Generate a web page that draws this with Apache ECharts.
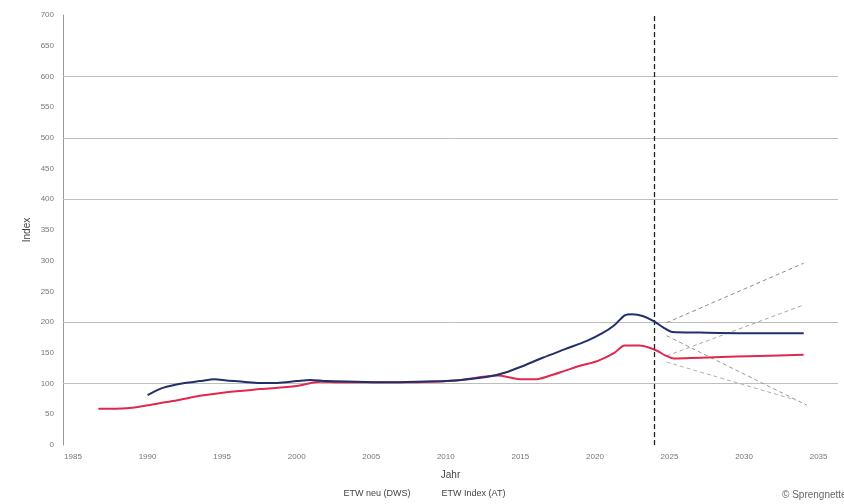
<!DOCTYPE html>
<html>
<head>
<meta charset="utf-8">
<script src="https://cdn.jsdelivr.net/npm/echarts@6/dist/echarts.min.js"></script>
<style>
html,body{margin:0;padding:0;background:#fff;}
#chart{width:844px;height:504px;}
</style>
</head>
<body>
<div id="chart"></div>
<script>
// ---- data ----
const xTickYears = [1985, 1990, 1995, 2000, 2005, 2010, 2015, 2020, 2025, 2030, 2035];
const yTickValues = [0, 50, 100, 150, 200, 250, 300, 350, 400, 450, 500, 550, 600, 650, 700];
const gridValues = [100, 200, 400, 500, 600];
const seriesNames = ['ETW neu (DWS)', 'ETW Index (AT)'];
const forecastStart = 2024;

const blueYears = [1990.0, 1990.8, 1991.5, 1992.5, 1993.5, 1994.5, 1995.3, 1996.4, 1997.5, 1998.7, 2000.0, 2000.9, 2002.0, 2004.0, 2006.0, 2008.0, 2010.0, 2011.5, 2013.0, 2014.0, 2015.0, 2016.5, 2018.0, 2019.5, 2020.5, 2021.3, 2022.0, 2022.5, 2023.2, 2024.0, 2024.6, 2025.2, 2027.0, 2030.0, 2034.0];
const blueValues = [81, 91, 96, 101, 104, 107, 105, 103, 101, 101, 104, 106, 104, 103, 102, 103, 104, 107, 112, 118, 127, 142, 156, 170, 182, 195, 211, 213, 210, 201, 191, 184, 183, 182, 182];

const redYears = [1986.7, 1988.6, 1989.6, 1990.8, 1992.0, 1993.5, 1995.3, 1997.6, 2000.0, 2001.6, 2003.0, 2005.0, 2007.0, 2009.0, 2011.0, 2012.5, 2013.5, 2014.3, 2015.0, 2016.0, 2017.0, 2018.0, 2019.0, 2020.2, 2021.3, 2022.0, 2023.0, 2023.7, 2024.2, 2024.7, 2025.3, 2028.0, 2031.0, 2034.0];
const redValues = [59, 60, 63, 68, 73, 80, 86, 91, 96, 103, 102, 102, 102, 103, 106, 111, 113, 110, 107, 107, 113, 121, 129, 137, 150, 162, 162, 158, 153, 146, 141, 143, 145, 147];

const scenarioYears = [[2024.8, 2034.0], [2024.8, 2034.0], [2024.8, 2034.2], [2024.8, 2033.5]];
const scenarioValues = [[199, 296], [145, 228], [178, 65], [135, 73]];
const scenarioColors = ['#8c8c8c', '#a8a8a8', '#9a9a9a', '#b0b0b0'];

// ---- chart ----
const pairs = (xs, ys) => xs.map((x, i) => [x, ys[i]]);
const chart = echarts.init(document.getElementById('chart'));

const series = [
  {
    name: seriesNames[0], type: 'line', data: pairs(blueYears, blueValues),
    showSymbol: false, smooth: 0.3, z: 5,
    lineStyle: { color: '#22306a', width: 2 }, itemStyle: { color: '#22306a' },
    markLine: {
      silent: true, symbol: 'none', label: { show: false },
      lineStyle: { color: '#222', type: [5, 3], width: 1.3 },
      data: [{ xAxis: forecastStart }]
    }
  },
  {
    name: seriesNames[1], type: 'line', data: pairs(redYears, redValues),
    showSymbol: false, smooth: 0.3, z: 4,
    lineStyle: { color: '#e0284f', width: 2 }, itemStyle: { color: '#e0284f' },
    markLine: {
      silent: true, symbol: 'none', label: { show: false }, z: 1,
      lineStyle: { color: '#bdbdbd', type: 'solid', width: 1 },
      data: gridValues.map(v => ({ yAxis: v }))
    }
  }
];
scenarioYears.forEach((ys, i) => {
  series.push({
    type: 'line', data: pairs(ys, scenarioValues[i]), showSymbol: false, silent: true, z: 3,
    lineStyle: { color: scenarioColors[i], width: 1, type: [4, 3] }
  });
});

chart.setOption({
  animation: false,
  backgroundColor: '#fff',
  grid: { left: 63, right: 6, top: 15, bottom: 59, containLabel: false },
  xAxis: {
    type: 'value', min: 1984.33, max: 2036.3,
    name: 'Jahr', nameLocation: 'middle', nameGap: 25, nameMoveOverlap: false,
    nameTextStyle: { color: '#444', fontSize: 10, fontFamily: 'Liberation Sans' },
    axisLine: { show: false }, axisTick: { show: false }, splitLine: { show: false },
    axisLabel: { customValues: xTickYears, formatter: v => String(Math.round(v)), color: '#777', fontSize: 8, fontFamily: 'Liberation Sans', margin: 8 }
  },
  yAxis: {
    type: 'value', min: 0, max: 700, interval: 100,
    name: 'Index', nameLocation: 'middle', nameGap: 31, nameMoveOverlap: false,
    nameTextStyle: { color: '#444', fontSize: 10, fontFamily: 'Liberation Sans' },
    axisLine: { show: true, lineStyle: { color: '#999', width: 1 } },
    axisTick: { show: false },
    axisLabel: { customValues: yTickValues, formatter: v => String(Math.round(v)), color: '#777', fontSize: 8, fontFamily: 'Liberation Sans', margin: 9 },
    splitLine: { show: false }
  },
  legend: {
    data: seriesNames, bottom: 1, left: 'center', itemGap: 26,
    itemWidth: 0, itemHeight: 0, icon: 'rect',
    textStyle: { color: '#444', fontSize: 9, fontFamily: 'Liberation Sans' }
  },
  graphic: [{
    type: 'text', right: -6, bottom: 4,
    style: { text: '© Sprengnetter', fill: '#666', fontSize: 10, fontFamily: 'Liberation Sans' }
  }],
  series: series
});
</script>
</body>
</html>
